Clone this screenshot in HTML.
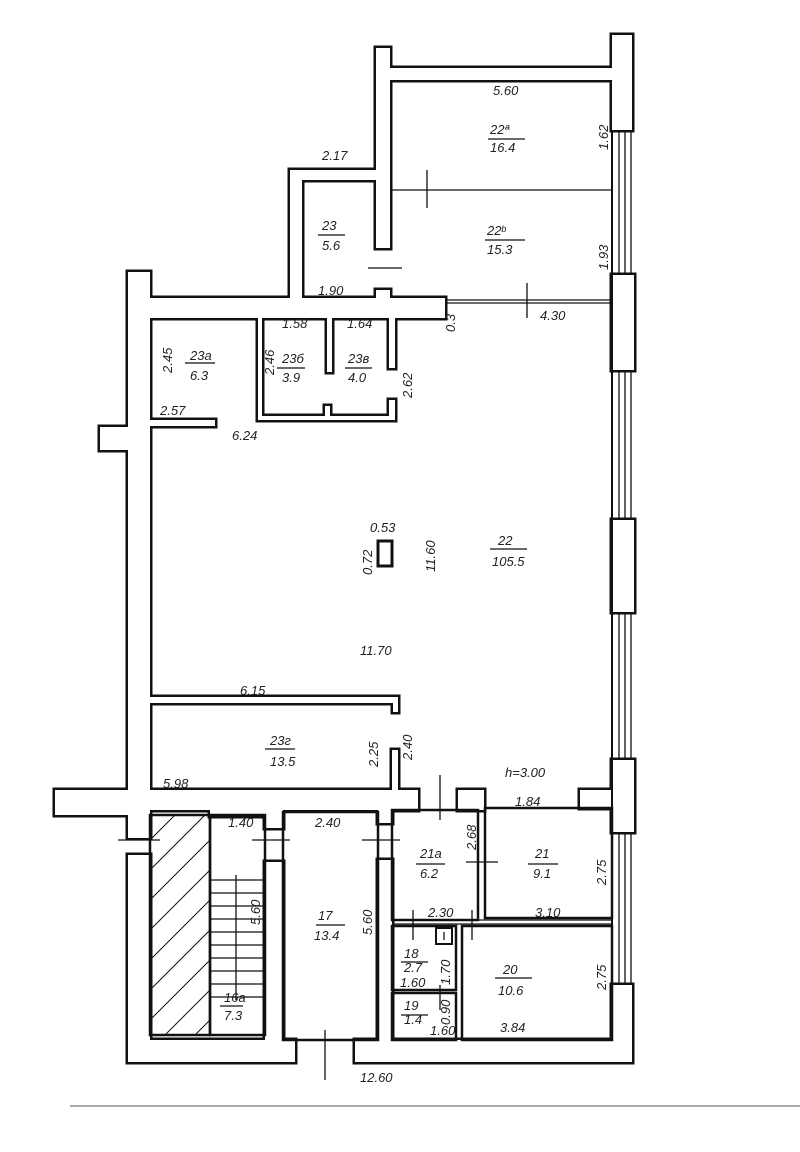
<!DOCTYPE html>
<html><head><meta charset="utf-8"><style>
html,body{margin:0;padding:0;background:#fff;}
svg{display:block}
text{font-family:"Liberation Sans",sans-serif;font-style:italic;font-size:13px;fill:#222}
</style></head><body>
<svg width="800" height="1152" viewBox="0 0 800 1152" xmlns="http://www.w3.org/2000/svg">
<defs>
<g id="walls">
 <rect x="376" y="48" width="14" height="200"/>
 <rect x="376" y="290" width="14" height="12"/>
 <rect x="390" y="68" width="222" height="12"/>
 <rect x="612" y="35" width="20" height="95"/>
 <rect x="290" y="170" width="86" height="10"/>
 <rect x="290" y="170" width="12" height="132"/>
 <rect x="150" y="298" width="295" height="20"/>
 <rect x="128" y="272" width="22" height="155"/>
 <rect x="128" y="450" width="22" height="360"/>
 <rect x="100" y="427" width="50" height="23"/>
 <rect x="612" y="275" width="22" height="95"/>
 <rect x="612" y="520" width="22" height="92"/>
 <rect x="612" y="760" width="22" height="72"/>
 <rect x="612" y="985" width="20" height="77"/>
 <rect x="128" y="790" width="290" height="20"/>
 <rect x="458" y="790" width="26" height="20"/>
 <rect x="580" y="790" width="34" height="18"/>
 <rect x="55" y="790" width="73" height="25"/>
 <rect x="128" y="808" width="22" height="30"/>
 <rect x="128" y="855" width="22" height="207"/>
 <rect x="128" y="1040" width="167" height="22"/>
 <rect x="355" y="1040" width="277" height="22"/>
 <rect x="265" y="808" width="18" height="20"/>
 <rect x="265" y="862" width="18" height="180"/>
 <rect x="210" y="808" width="55" height="8"/>
 <rect x="378" y="808" width="14" height="15"/>
 <rect x="378" y="860" width="14" height="182"/>
 <rect x="150" y="420" width="65" height="6"/>
 <rect x="150" y="697" width="248" height="6"/>
 <rect x="393" y="697" width="5" height="15"/>
 <rect x="392" y="750" width="6" height="42"/>
 <rect x="258" y="318" width="4" height="102"/>
 <rect x="258" y="416" width="137" height="4"/>
 <rect x="327" y="318" width="5" height="54"/>
 <rect x="389" y="318" width="6" height="50"/>
 <rect x="389" y="400" width="6" height="20"/>
 <rect x="325" y="406" width="5" height="12"/>
</g>
</defs>
<g fill="none" stroke="#111" stroke-width="5"><use href="#walls"/></g>
<g fill="#fff" stroke="none"><use href="#walls"/></g>

<g stroke="#111" fill="none" stroke-width="1.3">
 <line x1="612" y1="130" x2="612" y2="985" stroke-width="2"/>
 <line x1="619" y1="130" x2="619" y2="275"/><line x1="625" y1="130" x2="625" y2="275"/><line x1="631" y1="130" x2="631" y2="275"/>
 <line x1="619" y1="370" x2="619" y2="520"/><line x1="625" y1="370" x2="625" y2="520"/><line x1="631" y1="370" x2="631" y2="520"/>
 <line x1="619" y1="612" x2="619" y2="760"/><line x1="625" y1="612" x2="625" y2="760"/><line x1="631" y1="612" x2="631" y2="760"/>
 <line x1="619" y1="832" x2="619" y2="985"/><line x1="625" y1="832" x2="625" y2="985"/><line x1="631" y1="832" x2="631" y2="985"/>
 <line x1="390" y1="190" x2="612" y2="190"/>
 <line x1="427" y1="170" x2="427" y2="208"/>
 <line x1="445" y1="300" x2="612" y2="300"/><line x1="445" y1="303" x2="612" y2="303"/>
 <line x1="527" y1="283" x2="527" y2="318"/>
 <line x1="368" y1="268" x2="402" y2="268"/>
 <rect x="378" y="541" width="14" height="25" stroke-width="3"/>
 <rect x="392" y="810" width="86" height="110" stroke-width="2.5"/>
 <rect x="485" y="808" width="127" height="110" stroke-width="2.5"/>
 <line x1="392" y1="920" x2="612" y2="920"/><line x1="392" y1="924" x2="612" y2="924"/>
 <rect x="392" y="926" width="64" height="64" stroke-width="2.5"/>
 <rect x="392" y="993" width="64" height="47" stroke-width="2.5"/>
 <rect x="462" y="926" width="150" height="114" stroke-width="2.5"/>
 <rect x="283" y="812" width="95" height="228" stroke-width="2.5"/>
 <rect x="150" y="815" width="60" height="220" stroke-width="2.5"/>
 <rect x="210" y="815" width="55" height="220" stroke-width="2.5"/>
 <rect x="436" y="928" width="16" height="16" stroke-width="2"/>
 <line x1="444" y1="932" x2="444" y2="940"/>
 <line x1="440" y1="775" x2="440" y2="820"/>
 <line x1="118" y1="840" x2="160" y2="840"/>
 <line x1="252" y1="840" x2="290" y2="840"/>
 <line x1="362" y1="840" x2="400" y2="840"/>
 <line x1="466" y1="862" x2="498" y2="862"/>
 <line x1="413" y1="910" x2="413" y2="940"/>
 <line x1="472" y1="910" x2="472" y2="940"/>
 <line x1="440" y1="985" x2="440" y2="1010"/>
 <line x1="325" y1="1030" x2="325" y2="1080"/>
 <line x1="210" y1="880" x2="265" y2="880"/>
 <line x1="210" y1="893" x2="265" y2="893"/>
 <line x1="210" y1="906" x2="265" y2="906"/>
 <line x1="210" y1="919" x2="265" y2="919"/>
 <line x1="210" y1="932" x2="265" y2="932"/>
 <line x1="210" y1="945" x2="265" y2="945"/>
 <line x1="210" y1="958" x2="265" y2="958"/>
 <line x1="210" y1="971" x2="265" y2="971"/>
 <line x1="210" y1="984" x2="265" y2="984"/>
 <line x1="210" y1="997" x2="265" y2="997"/>
 <line x1="236" y1="875" x2="236" y2="1000"/>
 <g stroke-width="1">
  <line x1="150" y1="840" x2="175" y2="815"/><line x1="150" y1="870" x2="205" y2="815"/>
  <line x1="150" y1="900" x2="210" y2="840"/><line x1="150" y1="930" x2="210" y2="870"/>
  <line x1="150" y1="960" x2="210" y2="900"/><line x1="150" y1="990" x2="210" y2="930"/>
  <line x1="150" y1="1020" x2="210" y2="960"/><line x1="165" y1="1035" x2="210" y2="990"/>
  <line x1="195" y1="1035" x2="210" y2="1020"/>
 </g>
 <line x1="488" y1="139" x2="525" y2="139"/>
 <line x1="485" y1="240" x2="525" y2="240"/>
 <line x1="318" y1="235" x2="345" y2="235"/>
 <line x1="185" y1="363" x2="215" y2="363"/>
 <line x1="277" y1="368" x2="305" y2="368"/>
 <line x1="345" y1="368" x2="372" y2="368"/>
 <line x1="490" y1="549" x2="527" y2="549"/>
 <line x1="265" y1="749" x2="295" y2="749"/>
 <line x1="416" y1="864" x2="445" y2="864"/>
 <line x1="528" y1="864" x2="558" y2="864"/>
 <line x1="316" y1="925" x2="345" y2="925"/>
 <line x1="401" y1="962" x2="428" y2="962"/>
 <line x1="495" y1="978" x2="532" y2="978"/>
 <line x1="401" y1="1015" x2="428" y2="1015"/>
 <line x1="220" y1="1006" x2="243" y2="1006"/>
 <line x1="70" y1="1106" x2="800" y2="1106" stroke="#777"/>
</g>

<g>
 <text x="493" y="95">5.60</text>
 <text x="490" y="134">22ª</text><text x="490" y="152" font-size="11">16.4</text>
 <text x="487" y="235">22ᵇ</text><text x="487" y="254" font-size="11">15.3</text>
 <text x="322" y="160">2.17</text>
 <text x="322" y="230">23</text><text x="322" y="250">5.6</text>
 <text x="318" y="295">1.90</text>
 <text x="540" y="320">4.30</text>
 <text x="282" y="328" font-size="11">1.58</text>
 <text x="347" y="328" font-size="11">1.64</text>
 <text x="190" y="360">23a</text><text x="190" y="380">6.3</text>
 <text x="282" y="363">23б</text><text x="282" y="382">3.9</text>
 <text x="348" y="363">23в</text><text x="348" y="382">4.0</text>
 <text x="160" y="415">2.57</text>
 <text x="232" y="440">6.24</text>
 <text x="370" y="532" font-size="12">0.53</text>
 <text x="498" y="545">22</text><text x="492" y="566">105.5</text>
 <text x="360" y="655">11.70</text>
 <text x="240" y="695">6.15</text>
 <text x="270" y="745">23г</text><text x="270" y="766">13.5</text>
 <text x="163" y="788" font-size="12">5.98</text>
 <text x="505" y="777">h=3.00</text>
 <text x="515" y="806" font-size="11">1.84</text>
 <text x="228" y="827" font-size="12">1.40</text>
 <text x="315" y="827" font-size="12">2.40</text>
 <text x="420" y="858">21a</text><text x="420" y="878">6.2</text>
 <text x="535" y="858">21</text><text x="533" y="878">9.1</text>
 <text x="428" y="917">2.30</text>
 <text x="535" y="917">3.10</text>
 <text x="318" y="920">17</text><text x="314" y="940">13.4</text>
 <text x="404" y="958">18</text><text x="404" y="972" font-size="11">2.7</text>
 <text x="400" y="987" font-size="12">1.60</text>
 <text x="503" y="974">20</text><text x="498" y="995" font-size="12">10.6</text>
 <text x="404" y="1010">19</text><text x="404" y="1024" font-size="10">1.4</text>
 <text x="430" y="1035" font-size="11">1.60</text>
 <text x="500" y="1032">3.84</text>
 <text x="224" y="1002" font-size="12">16a</text><text x="224" y="1020" font-size="11">7.3</text>
 <text x="360" y="1082">12.60</text>
 <g font-size="12">
  <text transform="translate(608,150) rotate(-90)">1.62</text>
  <text transform="translate(608,270) rotate(-90)">1.93</text>
  <text transform="translate(172,373) rotate(-90)">2.45</text>
  <text transform="translate(274,375) rotate(-90)">2.46</text>
  <text transform="translate(412,398) rotate(-90)">2.62</text>
  <text transform="translate(455,332) rotate(-90)">0.3</text>
  <text transform="translate(372,575) rotate(-90)">0.72</text>
  <text transform="translate(435,572) rotate(-90)">11.60</text>
  <text transform="translate(378,767) rotate(-90)">2.25</text>
  <text transform="translate(412,760) rotate(-90)">2.40</text>
  <text transform="translate(476,850) rotate(-90)">2.68</text>
  <text transform="translate(606,885) rotate(-90)">2.75</text>
  <text transform="translate(606,990) rotate(-90)">2.75</text>
  <text transform="translate(260,925) rotate(-90)">5.60</text>
  <text transform="translate(372,935) rotate(-90)">5.60</text>
  <text transform="translate(450,985) rotate(-90)">1.70</text>
  <text transform="translate(450,1025) rotate(-90)">0.90</text>
 </g>
</g>
</svg>
</body></html>
